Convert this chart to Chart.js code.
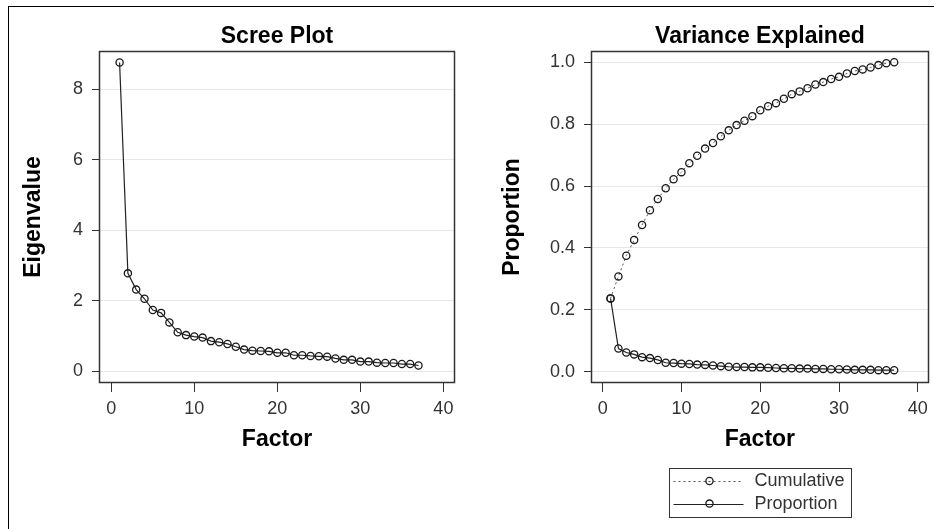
<!DOCTYPE html>
<html><head><meta charset="utf-8">
<script src="https://cdn.jsdelivr.net/npm/chart.js@4/dist/chart.umd.min.js"></script>
<style>
html,body{margin:0;padding:0;background:#fff;}
#wrap{position:relative;width:934px;height:529px;overflow:hidden;background:#fff;}
#border{position:absolute;left:8px;top:6px;width:960px;height:560px;border:1px solid #000;box-sizing:border-box;}
canvas{position:absolute;top:0;}
#c1{left:0;}
#c2{left:470px;}
</style></head><body>
<div id="wrap"><div id="border"></div>
<canvas id="c1" width="470" height="529"></canvas>
<canvas id="c2" width="464" height="529"></canvas>
</div>
<script>
// ---- data ----
const factors = [1,2,3,4,5,6,7,8,9,10,11,12,13,14,15,16,17,18,19,20,21,22,23,24,25,26,27,28,29,30,31,32,33,34,35,36,37];
const eigenvalues = [8.75,2.78,2.32,2.06,1.74,1.66,1.39,1.11,1.03,0.99,0.96,0.86,0.83,0.78,0.70,0.62,0.59,0.58,0.57,0.53,0.53,0.46,0.46,0.44,0.43,0.42,0.37,0.33,0.33,0.28,0.28,0.25,0.24,0.24,0.21,0.21,0.17];
const cumulative = [0.237,0.308,0.375,0.426,0.474,0.522,0.558,0.593,0.622,0.645,0.674,0.698,0.721,0.739,0.761,0.780,0.797,0.811,0.826,0.845,0.858,0.868,0.882,0.897,0.906,0.916,0.928,0.936,0.946,0.953,0.964,0.972,0.977,0.983,0.991,0.997,1.000];
const proportion = [0.237,0.075,0.062,0.056,0.047,0.044,0.038,0.029,0.028,0.026,0.025,0.023,0.022,0.020,0.018,0.016,0.015,0.015,0.014,0.014,0.013,0.012,0.011,0.011,0.010,0.010,0.009,0.009,0.008,0.008,0.007,0.006,0.006,0.006,0.005,0.005,0.005];
const xTicks = [0,10,20,30,40];
const eigenTicks = [0,2,4,6,8];
const propTicks = [0,0.2,0.4,0.6,0.8,1.0];
const titles = ['Scree Plot','Variance Explained'];
const seriesNames = ['Cumulative','Proportion'];

const FONT = "'Liberation Sans', Arial, sans-serif";
Chart.defaults.font.family = FONT;
Chart.defaults.animation = false;

const pts = vals => factors.map((f,i)=>({x:f, y:vals[i]}));

// frame around the plot area + title centred over the plot area
const framePlugin = {
  id:'frame',
  afterDraw(chart, args, opts){
    const {ctx, chartArea:a} = chart;
    ctx.save();
    ctx.strokeStyle = '#333';
    ctx.lineWidth = 1.5;
    ctx.strokeRect(Math.round(a.left)+0.5, Math.round(a.top)+0.5, Math.round(a.right-a.left)-1, Math.round(a.bottom-a.top)-1);
    ctx.fillStyle = '#000';
    ctx.font = "bold 23px " + FONT;
    ctx.textAlign = 'center'; ctx.textBaseline = 'middle';
    ctx.fillText(opts.text, (a.left+a.right)/2, a.top - 14);
    ctx.restore();
  }
};

const legendPlugin = {
  id:'sasLegend',
  afterDraw(chart){
    const {ctx, chartArea:a} = chart;
    const w = 182, h = 49;
    const left = Math.round((a.left+a.right)/2 - w/2) + 0.5;
    const top = Math.round(a.bottom + 85) + 0.5;
    ctx.save();
    ctx.strokeStyle = '#333'; ctx.lineWidth = 1;
    ctx.strokeRect(left, top, w, h);
    chart.data.datasets.forEach((ds, i) => {
      const y = top + 12.5 + i*22.6;
      ctx.beginPath();
      ctx.setLineDash(ds.borderDash || []);
      ctx.strokeStyle = ds.borderColor; ctx.lineWidth = ds.borderWidth;
      ctx.moveTo(left+4, Math.round(y)+0.5); ctx.lineTo(left+74, Math.round(y)+0.5);
      ctx.stroke();
      ctx.setLineDash([]);
      ctx.beginPath();
      ctx.strokeStyle = ds.pointBorderColor; ctx.lineWidth = ds.pointBorderWidth;
      ctx.arc(left+40, y, ds.pointRadius, 0, Math.PI*2);
      ctx.stroke();
      ctx.fillStyle = '#333';
      ctx.font = "18px " + FONT;
      ctx.textBaseline = 'middle'; ctx.textAlign = 'left';
      ctx.fillText(ds.label, left+85, y);
    });
    ctx.restore();
  }
};

const pointStyle = {
  pointStyle:'circle', pointRadius:3.6, pointHoverRadius:3.6, pointBorderWidth:1.3,
  pointBorderColor:'#1a1a1a', pointBackgroundColor:'rgba(255,255,255,0)'
};

function xScale(){
  return {
    type:'linear', min:-1.48, max:41.4,
    afterBuildTicks: s => { s.ticks = xTicks.map(v=>({value:v})); },
    afterFit: s => { s.height = 70; },
    grid:{drawOnChartArea:false, drawTicks:true, tickLength:9, tickColor:'#333', tickWidth:1},
    border:{display:false},
    ticks:{padding:6, color:'#333', font:{size:18}, maxRotation:0, autoSkip:false},
    title:{display:true, text:'Factor', color:'#000', font:{size:23, weight:'bold'}, padding:{top:0,bottom:0}}
  };
}
function yScale(min, max, tickVals, fmt, width, label){
  return {
    type:'linear', min, max,
    afterBuildTicks: s => { s.ticks = tickVals.map(v=>({value:v})); },
    afterFit: s => { s.width = width; },
    grid:{drawOnChartArea:true, color:'#e8e8e8', lineWidth:1, drawTicks:true, tickLength:7, tickColor:'#333', tickWidth:1},
    border:{display:false},
    ticks:{padding:9, color:'#333', font:{size:18}, autoSkip:false, callback: v => fmt(v)},
    title:{display:true, text:label, color:'#000', font:{size:23, weight:'bold'}, padding:{top:4.2,bottom:0}}
  };
}

new Chart(document.getElementById('c1'), {
  type:'line',
  data:{datasets:[{label:'Eigenvalue', data:pts(eigenvalues), borderColor:'#222', borderWidth:1.2, ...pointStyle}]},
  options:{
    responsive:false, devicePixelRatio:1,
    layout:{padding:{left:16, right:15, top:51, bottom:76}},
    plugins:{legend:{display:false}, tooltip:{enabled:false}, title:{display:false}, frame:{text:titles[0]}},
    scales:{x:xScale(), y:yScale(-0.326, 9.077, eigenTicks, v=>String(v), 83, 'Eigenvalue')}
  },
  plugins:[framePlugin]
});

new Chart(document.getElementById('c2'), {
  type:'line',
  data:{datasets:[
    {label:seriesNames[0], data:pts(cumulative), borderColor:'#555', borderWidth:1, borderDash:[2,3], ...pointStyle},
    {label:seriesNames[1], data:pts(proportion), borderColor:'#222', borderWidth:1.2, ...pointStyle}
  ]},
  options:{
    responsive:false, devicePixelRatio:1,
    layout:{padding:{left:25, right:5, top:51, bottom:76}},
    plugins:{legend:{display:false}, tooltip:{enabled:false}, title:{display:false}, frame:{text:titles[1]}},
    scales:{x:xScale(), y:yScale(-0.0365, 1.0365, propTicks, v=>v.toFixed(1), 96, 'Proportion')}
  },
  plugins:[framePlugin, legendPlugin]
});
</script>
</body></html>
